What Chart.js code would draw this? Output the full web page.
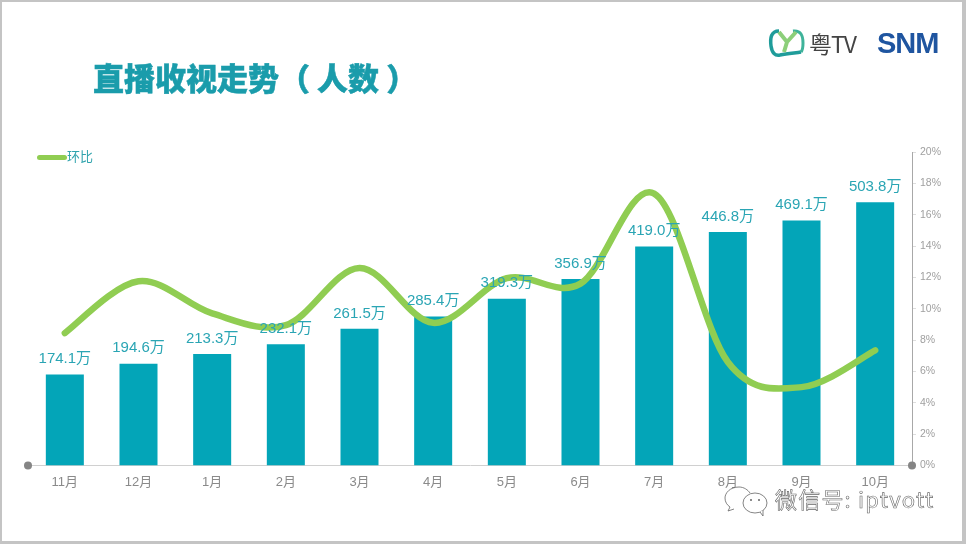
<!DOCTYPE html>
<html>
<head>
<meta charset="utf-8">
<script src="https://cdn.jsdelivr.net/npm/chart.js@4"></script>
<style>
html, body { margin: 0; padding: 0; background: #fff; }
#page { position: relative; width: 966px; height: 544px; overflow: hidden; font-family: "Noto Sans CJK SC", sans-serif; }
#frame { position: absolute; left: 0; top: 0; width: 960px; height: 539px; border: solid #c4c4c4; border-width: 2px 4px 3px 2px; }
#title { position: absolute; left: 93px; top: 55px; font-size: 31px; line-height: 44px; font-weight: 900; color: #1a9cab; -webkit-text-stroke: 0.5px #1a9cab; white-space: pre; }
#legendLine { position: absolute; left: 37px; top: 155px; width: 30px; height: 5px; border-radius: 3px; background: #90cd52; }
#legendText { position: absolute; left: 67px; top: 147px; font-size: 13px; line-height: 18px; color: #2fa3ad; }
#tv { position: absolute; left: 809px; top: 27px; font-size: 23px; line-height: 32px; color: #444; letter-spacing: -1px; }
#snm { position: absolute; left: 877px; top: 25px; font: 700 29px/36px "Liberation Sans", sans-serif; color: #1f55a0; letter-spacing: -1px; }
#mark { position: absolute; left: 775px; top: 482px; font-size: 22px; line-height: 32px; color: #fff; -webkit-text-stroke: 0.6px #666; letter-spacing: 1.2px; white-space: pre; }
svg { position: absolute; }
canvas { position: absolute; left: 0; top: 0; }
</style>
</head>
<body>
<div id="page">
  <canvas id="trend_chart" width="966" height="544"></canvas>
  <div id="frame"></div>
  <div id="title">直播收视走势（ 人数 ）</div>
  <div id="legendLine"></div>
  <div id="legendText">环比</div>
  <svg style="left:768px;top:28px" width="38" height="32" viewBox="0 0 38 32">
    <path d="M11 3 C3 3 2 10 3 18 C4 25 7 28 12 27 C20 25 28 25 33 24" fill="none" stroke="#1f9c9a" stroke-width="3.5"/>
    <path d="M25 3 C33 2 35 8 35 15 C35 20 34 23 33 24" fill="none" stroke="#3fb39a" stroke-width="3"/>
    <path d="M11 4 L19 14 L28 4 M19 14 L16 24" fill="none" stroke="#8ccf7a" stroke-width="4"/>
  </svg>
  <div id="tv">粤TV</div>
  <div id="snm">SNM</div>
  <svg style="left:722px;top:484px" width="48" height="36" viewBox="0 0 48 36">
    <path d="M17 3 C8 3 3 9 3 14 C3 18 5 21 8 23 L6 27 L12 25" fill="none" stroke="#666" stroke-width="0.8"/>
    <path d="M17 3 C22 3 26 6 28 9" fill="none" stroke="#666" stroke-width="0.8"/>
    <ellipse cx="33" cy="19" rx="12" ry="10" fill="#fff" stroke="#666" stroke-width="0.8"/>
    <path d="M38 28 L41 32 L41 26" fill="#fff" stroke="#666" stroke-width="0.8"/>
    <circle cx="29" cy="16" r="1" fill="#666"/>
    <circle cx="37" cy="16" r="1" fill="#666"/>
  </svg>
  <div id="mark">微信号: iptvott</div>
</div>
<script>
var months = ["11月", "12月", "1月", "2月", "3月", "4月", "5月", "6月", "7月", "8月", "9月", "10月"];
var viewers = [174.1, 194.6, 213.3, 232.1, 261.5, 285.4, 319.3, 356.9, 419.0, 446.8, 469.1, 503.8];
var change = [8.45, 11.75, 9.7, 8.95, 12.6, 9.1, 11.95, 11.6, 17.35, 6.6, 5.0, 7.35];

// the source curve is a plain catmull-rom, chart.js weights by distance and kinks
var smoothLine = {
    id: "smoothLine",
    afterDatasetsUpdate: function (chart) {
        var meta = chart.getDatasetMeta(0);
        var pts = meta.data;
        meta.dataset.updateControlPoints(chart.chartArea);
        pts.forEach(function (p, i) {
            var prev = pts[Math.max(i - 1, 0)], next = pts[Math.min(i + 1, pts.length - 1)];
            var dx = (next.x - prev.x) / 6, dy = (next.y - prev.y) / 6;
            p.cp1x = p.x - dx; p.cp1y = p.y - dy;
            p.cp2x = p.x + dx; p.cp2y = p.y + dy;
        });
    }
};

// value labels above the bars, on top of the line
var barLabels = {
    id: "barLabels",
    afterDatasetsDraw: function (chart) {
        var ctx = chart.ctx;
        ctx.save();
        ctx.font = '15px "Liberation Sans", "Noto Sans CJK SC", sans-serif';
        ctx.fillStyle = "#2aa5b4";
        ctx.textAlign = "center";
        ctx.textBaseline = "bottom";
        chart.getDatasetMeta(1).data.forEach(function (bar, i) {
            ctx.fillText(viewers[i].toFixed(1) + "万", bar.x, bar.y - 8);
        });
        ctx.restore();
    }
};

// grey dots at both ends of the base line
var endDots = {
    id: "endDots",
    afterDraw: function (chart) {
        var ctx = chart.ctx, a = chart.chartArea;
        ctx.save();
        ctx.fillStyle = "#858585";
        [a.left, a.right].forEach(function (x) {
            ctx.beginPath();
            ctx.arc(x, a.bottom, 4, 0, Math.PI * 2);
            ctx.fill();
        });
        ctx.restore();
    }
};

var ctx = document.getElementById("trend_chart").getContext("2d");
var myChart = new Chart(ctx, {
    type: "bar",
    data: {
        labels: months,
        datasets: [{
            type: "line",
            label: "环比",
            data: change,
            yAxisID: "y1",
            borderColor: "#90cd52",
            borderWidth: 6.5,
            borderCapStyle: "round",
            pointRadius: 0,
            tension: 0.4,
            fill: false,
            order: 0
        }, {
            label: "人数",
            data: viewers,
            yAxisID: "y",
            backgroundColor: "#03a5b8",
            categoryPercentage: 1,
            barPercentage: 0.516,
            order: 1
        }]
    },
    options: {
        responsive: false,
        animation: false,
        layout: { padding: { left: 28, top: 152, right: 0, bottom: 0 } },
        plugins: { legend: { display: false }, tooltip: { enabled: false } },
        scales: {
            x: {
                grid: { display: false, drawTicks: false },
                border: { color: "#d0d0d0", width: 1 },
                ticks: { color: "#8a8a8a", font: { size: 13, family: '"Liberation Sans", "Noto Sans CJK SC", sans-serif' }, padding: 9, maxRotation: 0 },
                afterFit: function (scale) { scale.height = 78.5; }
            },
            y: { display: false, min: 0, max: 600 },
            y1: {
                position: "right",
                min: 0,
                max: 20,
                grid: { drawOnChartArea: false, tickLength: 4, color: "#dddddd" },
                border: { color: "#a8a8a8", dash: [1, 2] },
                ticks: {
                    stepSize: 2,
                    color: "#a0a0a0",
                    padding: 4,
                    font: { size: 10.5, family: '"Liberation Sans", sans-serif' },
                    callback: function (v) { return v + "%"; }
                },
                afterFit: function (scale) { scale.width = 54; }
            }
        }
    },
    plugins: [smoothLine, barLabels, endDots]
});
</script>
</body>
</html>
